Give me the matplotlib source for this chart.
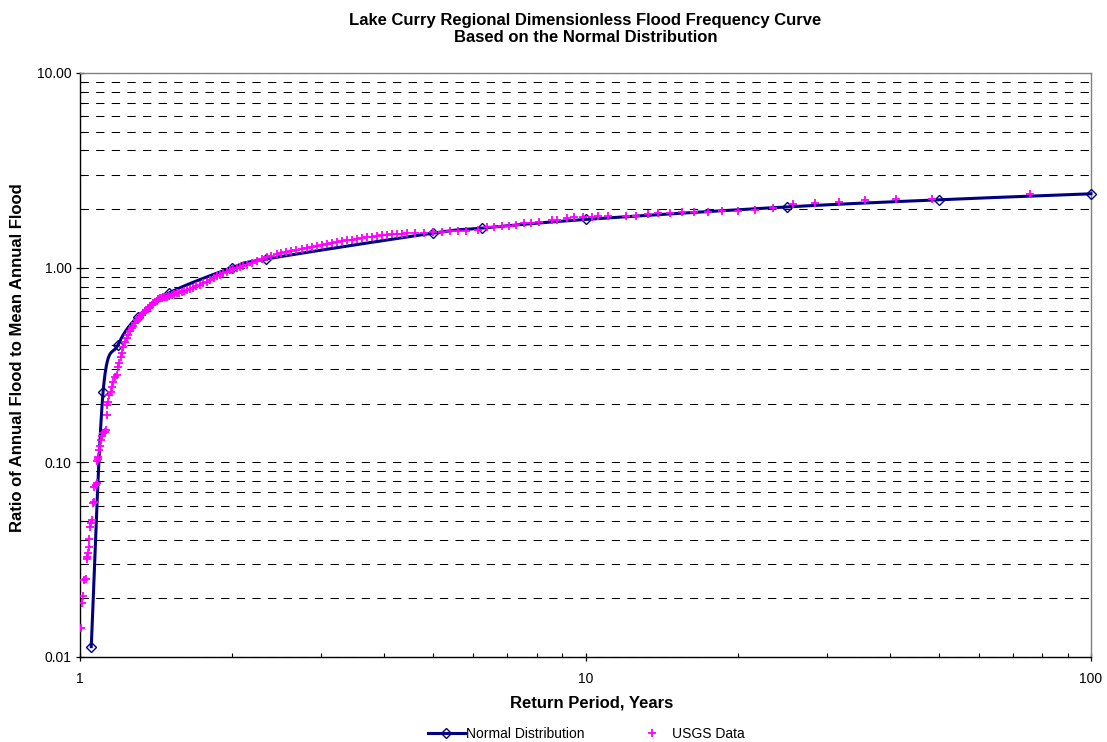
import matplotlib
matplotlib.use("Agg")
import matplotlib.pyplot as plt
import numpy as np

plt.rcParams['font.family'] = ['Liberation Sans', 'DejaVu Sans']

# Normal distribution curve (return period, ratio)
norm_T = [1.0526, 1.111, 1.19, 1.3, 1.5, 2.0, 2.33, 5.0, 6.25, 10.0, 25.0, 50.0, 100.0]
norm_Q = [0.0113, 0.231, 0.403, 0.558, 0.741, 1.0, 1.107, 1.505, 1.597, 1.769, 2.051, 2.232, 2.396]

# USGS pooled data
usgs_T = [1.0046, 1.0106, 1.015, 1.0198, 1.026, 1.031, 1.034, 1.039, 1.042, 1.043,
          1.047, 1.052, 1.055, 1.062, 1.067, 1.068, 1.074, 1.079, 1.080, 1.084,
          1.087, 1.090, 1.094, 1.099, 1.104, 1.112, 1.121, 1.126, 1.129, 1.132,
          1.137, 1.143, 1.152, 1.155, 1.164,
          1.173, 1.182, 1.191, 1.196, 1.204, 1.209, 1.218, 1.228, 1.237, 1.246,
          1.256, 1.266, 1.275, 1.285, 1.298, 1.306, 1.314, 1.324, 1.334, 1.343,
          1.352, 1.364, 1.375, 1.386, 1.396, 1.407, 1.418, 1.428, 1.439, 1.451,
          1.462, 1.473, 1.484, 1.502, 1.520, 1.536, 1.553, 1.571, 1.590, 1.608,
          1.626, 1.650, 1.675, 1.700, 1.727, 1.754, 1.781, 1.810, 1.840, 1.866,
          1.893, 1.921, 1.950, 1.980, 2.010, 2.040, 2.070, 2.105, 2.140, 2.190,
          2.240, 2.290, 2.340, 2.390, 2.450, 2.500, 2.560, 2.620, 2.680, 2.745,
          2.810, 2.875, 2.940, 3.010, 3.080, 3.150, 3.220, 3.300, 3.370, 3.450,
          3.530, 3.610, 3.690, 3.780, 3.870, 3.960, 4.050, 4.150, 4.240, 4.340,
          4.440, 4.600, 4.800, 5.000, 5.200, 5.400, 5.600, 5.800, 6.130, 6.380,
          6.580, 6.830, 7.060, 7.300, 7.550, 7.800, 8.100, 8.600, 8.800, 9.200,
          9.500, 9.900, 10.30, 10.60, 11.10, 12.00, 12.60, 13.30, 13.90, 14.70,
          15.50, 16.40, 17.50, 18.60, 20.00, 21.60, 23.50, 25.70, 28.40, 31.70,
          35.80, 41.20, 48.50, 75.60]
usgs_Q = [0.0141, 0.0190, 0.0206, 0.0249, 0.0252, 0.0319, 0.0328, 0.0341, 0.0369, 0.0403,
          0.0468, 0.0487, 0.0506, 0.0620, 0.0628, 0.0750, 0.0766, 0.0781, 0.101, 0.104,
          0.107, 0.116, 0.121, 0.130, 0.136, 0.141, 0.144, 0.147, 0.175, 0.197,
          0.205, 0.222, 0.231, 0.245, 0.260,
          0.275, 0.281, 0.310, 0.323, 0.349, 0.363, 0.393, 0.417, 0.434, 0.451,
          0.470, 0.489, 0.503, 0.518, 0.538, 0.549, 0.560, 0.571, 0.583, 0.594,
          0.605, 0.618, 0.631, 0.644, 0.656, 0.666, 0.676, 0.687, 0.697, 0.701,
          0.704, 0.707, 0.710, 0.717, 0.724, 0.731, 0.739, 0.745, 0.752, 0.760,
          0.768, 0.779, 0.790, 0.803, 0.815, 0.831, 0.847, 0.866, 0.885, 0.901,
          0.918, 0.936, 0.955, 0.974, 0.990, 1.000, 1.012, 1.022, 1.035, 1.055,
          1.076, 1.105, 1.138, 1.150, 1.170, 1.185, 1.202, 1.217, 1.232, 1.246,
          1.260, 1.276, 1.292, 1.308, 1.323, 1.336, 1.350, 1.366, 1.381, 1.395,
          1.408, 1.420, 1.432, 1.445, 1.458, 1.470, 1.480, 1.488, 1.495, 1.490,
          1.500, 1.500, 1.510, 1.520, 1.530, 1.550, 1.550, 1.550, 1.570, 1.620,
          1.620, 1.630, 1.640, 1.660, 1.690, 1.700, 1.720, 1.750, 1.760, 1.790,
          1.820, 1.830, 1.830, 1.840, 1.850, 1.850, 1.850, 1.890, 1.900, 1.920,
          1.930, 1.930, 1.940, 1.960, 1.960, 1.980, 2.030, 2.120, 2.140, 2.180,
          2.230, 2.250, 2.250, 2.380]

y_ticks = [0.01, 0.1, 1, 10]
y_labels = ['0.01', '0.10', '1.00', '10.00']
x_ticks = [1, 10, 100]
x_labels = ['1', '10', '100']


def smooth_line(xs, ys, n=40):
    # Bezier smoothing in log space, like a spreadsheet "smoothed line"
    P = np.column_stack([np.log10(xs), np.log10(ys)])
    segs = []
    for i in range(len(P) - 1):
        p0 = P[i - 1] if i > 0 else P[i]
        p1, p2 = P[i], P[i + 1]
        p3 = P[i + 2] if i + 2 < len(P) else P[i + 1]
        c1 = p1 + (p2 - p0) / 6
        c2 = p2 - (p3 - p1) / 6
        t = np.linspace(0, 1, n)[:, None]
        seg = (1 - t) ** 3 * p1 + 3 * (1 - t) ** 2 * t * c1 + 3 * (1 - t) * t ** 2 * c2 + t ** 3 * p2
        segs.append(seg if i == 0 else seg[1:])
    pts = np.vstack(segs)
    return 10 ** pts[:, 0], 10 ** pts[:, 1]


fig = plt.figure(figsize=(11.07, 7.42), dpi=100)
ax = fig.add_axes([80 / 1107, 85 / 742, 1011 / 1107, 584 / 742])

ax.set_xscale('log')
ax.set_yscale('log')
ax.set_xlim(1, 100)
ax.set_ylim(0.01, 10)

sx, sy = smooth_line(norm_T, norm_Q)
ax.plot(sx, sy, color='#000080', lw=2.2, zorder=3, clip_on=False)
ax.plot(norm_T, norm_Q, linestyle='none', marker='D', markersize=5.5,
        markerfacecolor='none', markeredgecolor='#000080', markeredgewidth=1.0,
        zorder=4, clip_on=False)
ax.plot(usgs_T, usgs_Q, linestyle='none', marker='+', markersize=6,
        markeredgewidth=1.3, color='#FF00FF', zorder=5)

# legend proxies
h1, = ax.plot([], [], color='#000080', lw=2.2, marker='D', markersize=5.5,
              markerfacecolor='none', markeredgecolor='#000080', markeredgewidth=1.0)
h2, = ax.plot([], [], linestyle='none', marker='+', markersize=6,
              markeredgewidth=1.3, color='#FF00FF')

ax.set_yticks(y_ticks)
ax.set_yticklabels(y_labels)
ax.set_xticks(x_ticks)
ax.set_xticklabels(x_labels)
ax.yaxis.set_minor_locator(matplotlib.ticker.LogLocator(base=10, subs=np.arange(2, 10)))
ax.xaxis.set_minor_locator(matplotlib.ticker.LogLocator(base=10, subs=np.arange(2, 10)))
ax.yaxis.set_minor_formatter(matplotlib.ticker.NullFormatter())
ax.xaxis.set_minor_formatter(matplotlib.ticker.NullFormatter())

ax.tick_params(which='major', direction='inout', length=6, width=0.9, labelsize=10, color='black')
ax.tick_params(axis='y', which='major', pad=3)
ax.tick_params(axis='x', which='major', pad=8)
ax.tick_params(which='minor', direction='in', length=3, width=0.8, color='black')

ax.grid(which='both', axis='y', color='black', linestyle=(0, (8, 7)), linewidth=0.75)
ax.grid(which='both', axis='x', visible=False)
ax.set_axisbelow(True)

for s in ['top', 'right']:
    ax.spines[s].set_color('#808080')
    ax.spines[s].set_linewidth(1.0)
for s in ['left', 'bottom']:
    ax.spines[s].set_color('black')
    ax.spines[s].set_linewidth(1.0)

fig.text(585.5 / 1107, 1 - 20 / 742, 'Lake Curry Regional Dimensionless Flood Frequency Curve',
         ha='center', va='center', fontsize=12, fontweight='bold')
fig.text(585.5 / 1107, 1 - 37 / 742, 'Based on the Normal Distribution',
         ha='center', va='center', fontsize=12, fontweight='bold')
fig.text(592 / 1107, 1 - 703 / 742, 'Return Period, Years',
         ha='center', va='center', fontsize=12, fontweight='bold')
fig.text(18 / 1107, 1 - 358 / 742, 'Ratio of Annual Flood to Mean Annual Flood',
         ha='center', va='center', rotation=90, fontsize=12, fontweight='bold')

fig.legend([h1, h2], ['Normal Distribution', 'USGS Data'], loc='center',
           bbox_to_anchor=(586 / 1107, 1 - 734 / 742), ncol=2, frameon=False,
           fontsize=10, handlelength=2.66, handletextpad=0.1, columnspacing=3.5,
           borderpad=0, borderaxespad=0)

fig.savefig('out.png', dpi=100)
